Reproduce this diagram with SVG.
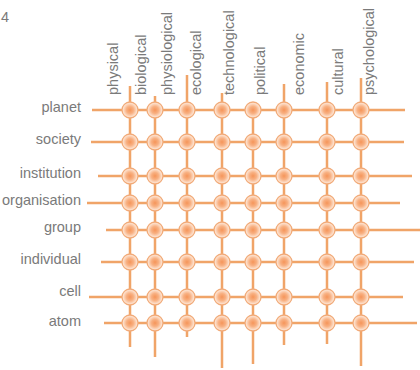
<svg xmlns="http://www.w3.org/2000/svg" width="420" height="370" viewBox="0 0 420 370">
<defs>
<radialGradient id="nodeFill" cx="50%" cy="50%" r="50%">
<stop offset="0%" stop-color="#F5955A"/>
<stop offset="45%" stop-color="#F8B183"/>
<stop offset="100%" stop-color="#FFF2E8"/>
</radialGradient>
<style>
.lbl{font-family:"Liberation Sans",Arial,sans-serif;font-size:14.5px;fill:#7a7a7a}
.row{text-anchor:end}
.ln{stroke:#F0A468;stroke-width:2.5;fill:none}
.nd{fill:url(#nodeFill);stroke:#F1AA78;stroke-width:1.3}
</style>
</defs>
<rect width="420" height="370" fill="#fff"/>
<text class="lbl" x="1" y="21.5">4</text>
<g id="connectors">
<line class="ln" x1="92" y1="110" x2="405" y2="110"/>
<line class="ln" x1="91" y1="142" x2="404" y2="142"/>
<line class="ln" x1="98" y1="176" x2="412" y2="176"/>
<line class="ln" x1="87" y1="203" x2="400" y2="203"/>
<line class="ln" x1="106" y1="230" x2="420" y2="230"/>
<line class="ln" x1="101" y1="262" x2="414" y2="262"/>
<line class="ln" x1="89" y1="297" x2="403" y2="297"/>
<line class="ln" x1="104" y1="323" x2="417" y2="323"/>
<line class="ln" x1="130" y1="86" x2="130" y2="347"/>
<line class="ln" x1="155" y1="96" x2="155" y2="357"/>
<line class="ln" x1="187" y1="75" x2="187" y2="337"/>
<line class="ln" x1="222" y1="93" x2="222" y2="368"/>
<line class="ln" x1="253" y1="110" x2="253" y2="364"/>
<line class="ln" x1="284" y1="84" x2="284" y2="345"/>
<line class="ln" x1="327" y1="82" x2="327" y2="344"/>
<line class="ln" x1="361" y1="78" x2="361" y2="366"/>
</g>
<g id="row-labels">
<text class="lbl row" x="81" y="112">planet</text>
<text class="lbl row" x="81" y="144">society</text>
<text class="lbl row" x="81" y="177.5">institution</text>
<text class="lbl row" x="81" y="204.5">organisation</text>
<text class="lbl row" x="81" y="232">group</text>
<text class="lbl row" x="81" y="264">individual</text>
<text class="lbl row" x="81" y="296">cell</text>
<text class="lbl row" x="81" y="326">atom</text>
</g>
<g id="column-labels">
<text class="lbl" transform="translate(118,95) rotate(-90)">physical</text>
<text class="lbl" transform="translate(146,95) rotate(-90)">biological</text>
<text class="lbl" transform="translate(172,95) rotate(-90)">physiological</text>
<text class="lbl" transform="translate(201,95) rotate(-90)">ecological</text>
<text class="lbl" transform="translate(234,95) rotate(-90)">technological</text>
<text class="lbl" transform="translate(265,95) rotate(-90)">political</text>
<text class="lbl" transform="translate(304,95) rotate(-90)">economic</text>
<text class="lbl" transform="translate(343,95) rotate(-90)">cultural</text>
<text class="lbl" transform="translate(374,95) rotate(-90)">psychological</text>
</g>
<g id="nodes">
<g id="r-planet"><circle class="nd" cx="130" cy="110" r="8"/><circle class="nd" cx="155" cy="110" r="8"/><circle class="nd" cx="187" cy="110" r="8"/><circle class="nd" cx="222" cy="110" r="8"/><circle class="nd" cx="253" cy="110" r="8"/><circle class="nd" cx="284" cy="110" r="8"/><circle class="nd" cx="327" cy="110" r="8"/><circle class="nd" cx="361" cy="110" r="8"/></g>
<g id="r-society"><circle class="nd" cx="130" cy="142" r="8"/><circle class="nd" cx="155" cy="142" r="8"/><circle class="nd" cx="187" cy="142" r="8"/><circle class="nd" cx="222" cy="142" r="8"/><circle class="nd" cx="253" cy="142" r="8"/><circle class="nd" cx="284" cy="142" r="8"/><circle class="nd" cx="327" cy="142" r="8"/><circle class="nd" cx="361" cy="142" r="8"/></g>
<g id="r-institution"><circle class="nd" cx="130" cy="176" r="8"/><circle class="nd" cx="155" cy="176" r="8"/><circle class="nd" cx="187" cy="176" r="8"/><circle class="nd" cx="222" cy="176" r="8"/><circle class="nd" cx="253" cy="176" r="8"/><circle class="nd" cx="284" cy="176" r="8"/><circle class="nd" cx="327" cy="176" r="8"/><circle class="nd" cx="361" cy="176" r="8"/></g>
<g id="r-organisation"><circle class="nd" cx="130" cy="203" r="8"/><circle class="nd" cx="155" cy="203" r="8"/><circle class="nd" cx="187" cy="203" r="8"/><circle class="nd" cx="222" cy="203" r="8"/><circle class="nd" cx="253" cy="203" r="8"/><circle class="nd" cx="284" cy="203" r="8"/><circle class="nd" cx="327" cy="203" r="8"/><circle class="nd" cx="361" cy="203" r="8"/></g>
<g id="r-group"><circle class="nd" cx="130" cy="230" r="8"/><circle class="nd" cx="155" cy="230" r="8"/><circle class="nd" cx="187" cy="230" r="8"/><circle class="nd" cx="222" cy="230" r="8"/><circle class="nd" cx="253" cy="230" r="8"/><circle class="nd" cx="284" cy="230" r="8"/><circle class="nd" cx="327" cy="230" r="8"/><circle class="nd" cx="361" cy="230" r="8"/></g>
<g id="r-individual"><circle class="nd" cx="130" cy="262" r="8"/><circle class="nd" cx="155" cy="262" r="8"/><circle class="nd" cx="187" cy="262" r="8"/><circle class="nd" cx="222" cy="262" r="8"/><circle class="nd" cx="253" cy="262" r="8"/><circle class="nd" cx="284" cy="262" r="8"/><circle class="nd" cx="327" cy="262" r="8"/><circle class="nd" cx="361" cy="262" r="8"/></g>
<g id="r-cell"><circle class="nd" cx="130" cy="297" r="8"/><circle class="nd" cx="155" cy="297" r="8"/><circle class="nd" cx="187" cy="297" r="8"/><circle class="nd" cx="222" cy="297" r="8"/><circle class="nd" cx="253" cy="297" r="8"/><circle class="nd" cx="284" cy="297" r="8"/><circle class="nd" cx="327" cy="297" r="8"/><circle class="nd" cx="361" cy="297" r="8"/></g>
<g id="r-atom"><circle class="nd" cx="130" cy="323" r="8"/><circle class="nd" cx="155" cy="323" r="8"/><circle class="nd" cx="187" cy="323" r="8"/><circle class="nd" cx="222" cy="323" r="8"/><circle class="nd" cx="253" cy="323" r="8"/><circle class="nd" cx="284" cy="323" r="8"/><circle class="nd" cx="327" cy="323" r="8"/><circle class="nd" cx="361" cy="323" r="8"/></g>
</g>
</svg>
